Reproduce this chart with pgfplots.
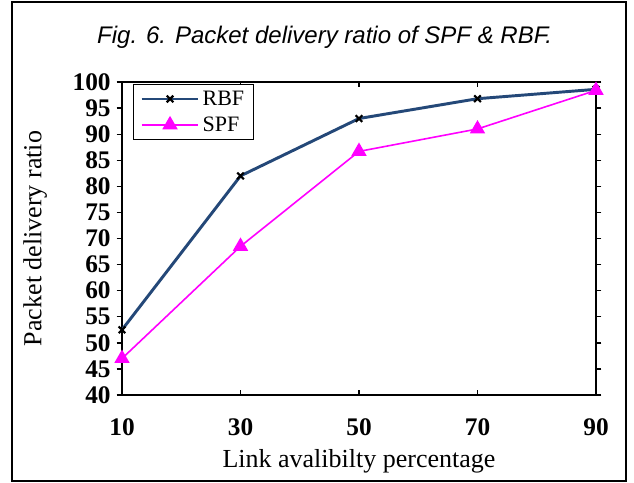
\documentclass[border=0pt]{standalone}
\usepackage{pgfplots}
\pgfplotsset{compat=1.18}
\usepackage{fontspec}
\setmainfont{Liberation Serif}
\newfontfamily\arialfont{Liberation Sans}
\definecolor{rbfblue}{RGB}{36,72,120}
\definecolor{spfmag}{RGB}{255,0,255}
\begin{document}
\begin{tikzpicture}[x=1pt,y=1pt]
\useasboundingbox (-91.5,-65.25) rectangle (384,296.25);
\draw[line width=1.5pt] (-82.5,-64.5) rectangle (378,295);
\node[font=\arialfont\itshape\fontsize{18}{20}\selectfont] at (152,268.5) {Fig. 6. Packet delivery ratio of SPF \& RBF.};
\begin{axis}[
  at={(0,0)}, anchor=south west,
  scale only axis, width=355.5pt, height=234.75pt,
  xmin=10, xmax=90, ymin=40, ymax=100,
  xtick={10,30,50,70,90}, ytick={40,45,...,100},
  axis line style={line width=1.2pt},
  every tick/.style={black, line width=1pt},
  major tick length=4pt,
  ytick align=outside, xtick align=inside,
  tick label style={font=\bfseries\fontsize{19}{21}\selectfont},
  /pgf/number format/assume math mode=true,
  xticklabel style={anchor=center, yshift=-24pt},
  yticklabel style={anchor=east, xshift=-1pt},
  xlabel={Link avalibilty percentage},
  ylabel={Packet delivery ratio},
  label style={font=\fontsize{19.5}{21}\selectfont},
  xlabel style={at={(axis description cs:0.5,-0.212)}, anchor=center},
  ylabel style={at={(axis description cs:-0.183,0.5)}, anchor=center},
  legend style={at={(0.023,0.995)}, anchor=north west, draw=black, line width=0.8pt,
    font=\fontsize{16.5}{18}\selectfont, row sep=3pt, inner xsep=5pt, inner ysep=3pt},
  legend cell align=left,
  legend image code/.code={\draw[mark repeat=2,mark phase=2,#1] plot coordinates {(0cm,0cm) (0.75cm,0cm) (1.5cm,0cm)};},
]
\addplot[rbfblue, line width=2.2pt, mark=x, mark size=3.5pt, mark options={black, line width=1.6pt}]
  coordinates {(10,52.5) (30,82) (50,93) (70,96.8) (90,98.6)};
\addlegendentry{RBF}
\addplot[spfmag, line width=1.2pt, mark=triangle*, mark size=5.5pt, mark options={fill=spfmag, draw=spfmag}]
  coordinates {(10,47) (30,68.5) (50,86.7) (70,91) (90,98.4)};
\addlegendentry{SPF}
\end{axis}
\end{tikzpicture}
\end{document}
